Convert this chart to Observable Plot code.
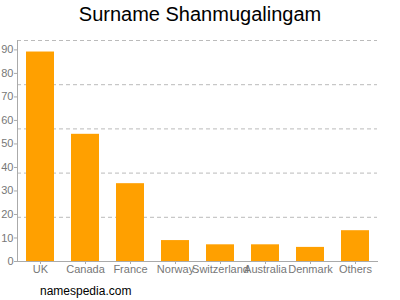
<!DOCTYPE html>
<html>
<head>
<meta charset="utf-8">
<script src="https://cdn.jsdelivr.net/npm/d3@7"></script>
<script src="https://cdn.jsdelivr.net/npm/@observablehq/plot@0.6"></script>
<style>
  html, body { margin: 0; padding: 0; background: #fff; }
  #wrap { position: relative; width: 400px; height: 300px; overflow: hidden; font-family: "Liberation Sans", Arial, sans-serif; }
  #title { position: absolute; left: 0; top: 4px; width: 400px; text-align: center; font-size: 20px; line-height: 20px; color: #000; }
  #chart { position: absolute; left: 0; top: 32px; }
  #caption { position: absolute; left: 40px; top: 285px; font-size: 12px; line-height: 12px; color: #000; }
</style>
</head>
<body>
<div id="wrap">
  <div id="title">Surname Shanmugalingam</div>
  <div id="chart"></div>
  <div id="caption">namespedia.com</div>
</div>
<script>
const countries = ["UK", "Canada", "France", "Norway", "Switzerland", "Australia", "Denmark", "Others"];
const percents = [89.1, 54.1, 33.1, 8.9, 7.1, 7.1, 6.0, 13.1];
const yTicks = [0, 10, 20, 30, 40, 50, 60, 70, 80, 90];
const gridLines = [18.8, 37.6, 56.4, 75.2, 94];
const yMax = 94;

const data = countries.map((c, i) => ({country: c, value: percents[i]}));

const chart = Plot.plot({
  width: 400,
  height: 250,
  marginTop: 8,
  marginBottom: 21,
  marginLeft: 17,
  marginRight: 23,
  style: {fontFamily: "'Liberation Sans', Arial, sans-serif", fontSize: "11px", color: "#777", background: "#fff"},
  x: {domain: countries, paddingInner: 0.38, paddingOuter: 0.19, label: null},
  y: {domain: [0, yMax], label: null},
  marks: [
    Plot.ruleY(gridLines, {stroke: "#bbb", strokeDasharray: "4,3", strokeWidth: 1}),
    Plot.barY(data, {x: "country", y: "value", fill: "#ffa000"}),
    Plot.frame({anchor: "left", stroke: "#aaa"}),
    Plot.frame({anchor: "bottom", stroke: "#aaa"}),
    Plot.axisY({ticks: yTicks, tickSize: 3, tickPadding: 1, stroke: "#aaa", fill: "#777", label: null}),
    Plot.axisX({tickSize: 3, tickPadding: 1, stroke: "#aaa", fill: "#777", label: null})
  ]
});
document.getElementById("chart").appendChild(chart);
</script>
</body>
</html>
